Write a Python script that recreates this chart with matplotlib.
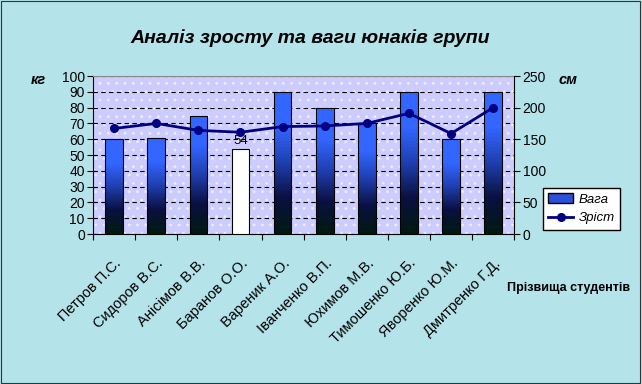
import numpy as np
import matplotlib.pyplot as plt
from matplotlib.colors import LinearSegmentedColormap
from matplotlib.patches import Rectangle
from matplotlib.transforms import ScaledTranslation

plt.rcParams['font.family'] = ['Liberation Sans', 'DejaVu Sans']

students = ['Петров П.С.', 'Сидоров В.С.', 'Анісімов В.В.', 'Баранов О.О.', 'Вареник А.О.',
            'Іванченко В.П.', 'Юхимов М.В.', 'Тимошенко Ю.Б.', 'Яворенко Ю.М.', 'Дмитренко Г.Д.']
weight = [60, 61, 75, 54, 90, 80, 70, 90, 60, 90]
height = [167, 175, 164, 161, 170, 171, 175, 191, 159, 200]
highlight = 3  # the white bar with a label

fig = plt.figure(figsize=(6.42, 3.84), dpi=100)
fig.patch.set_facecolor('#b5e3ea')
fig.patches.append(Rectangle((0.002, 0.003), 0.995, 0.994, transform=fig.transFigure,
                             fill=False, edgecolor='#333333', linewidth=0.8))

ax = fig.add_axes([0.145, 0.3906, 0.656, 0.4114])
ax.set_facecolor('#ccccff')
ax.add_patch(Rectangle((0, 0), 1, 1, transform=ax.transAxes, facecolor='none',
                       edgecolor='white', hatch='..', linewidth=0, alpha=0.5, zorder=0))

x = np.arange(len(students))
grad = LinearSegmentedColormap.from_list('g', ['#001a10', '#0a1040', '#1f3fb0', '#3366ff', '#3366ff'])
img = np.linspace(0, 1, 100).reshape(-1, 1)
bars = ax.bar(x, weight, width=0.42, facecolor='none', edgecolor='black', linewidth=0.8, zorder=3)
for i, b in enumerate(bars):
    if i == highlight:
        b.set_facecolor('white')
        continue
    im = ax.imshow(img, cmap=grad, origin='lower', aspect='auto', zorder=2,
                   extent=[b.get_x(), b.get_x() + b.get_width(), 0, b.get_height()])
    im.set_clip_path(b)
ax.text(x[highlight], weight[highlight] + 1, str(weight[highlight]), ha='center', va='bottom',
        fontsize=9.5, zorder=5)

ax.set_xlim(-0.5, len(students) - 0.5)
ax.set_ylim(0, 100)
ax.set_yticks(range(0, 101, 10))
ax.yaxis.grid(True, linestyle=(0, (4, 3)), color='black', linewidth=0.8)
ax.set_axisbelow(True)
ax.set_xticks(np.arange(-0.5, len(students), 1), minor=False)
ax.set_xticklabels([])
ax.set_xticks(x, minor=True)
ax.set_xticklabels(students, minor=True, rotation=45, ha='right', va='top',
                   rotation_mode='anchor', fontsize=10.5)
shift = ScaledTranslation(-9 / 100, 0, fig.dpi_scale_trans)
for lbl in ax.get_xticklabels(minor=True):
    lbl.set_transform(lbl.get_transform() + shift)
ax.tick_params(axis='x', which='minor', length=0, pad=16)
ax.tick_params(axis='x', which='major', length=4, direction='out')
ax.tick_params(axis='y', labelsize=10, length=4, pad=2)
for s in ['top', 'right']:
    ax.spines[s].set_visible(False)
ax.spines['top'].set_visible(True)
ax.spines['top'].set_color('#888888')

ax2 = ax.twinx()
ax2.set_ylim(0, 250)
ax2.set_yticks(range(0, 251, 50))
ax2.tick_params(axis='y', labelsize=10, length=4, pad=2)
line, = ax2.plot(x, height, color='#000080', linewidth=2, marker='o', markersize=5.5, zorder=6)
for s in ['top', 'left', 'bottom']:
    ax2.spines[s].set_visible(False)

fig.legend([Rectangle((0, 0), 1, 1, facecolor='#2a50d8', edgecolor='black'), line],
           ['Вага', 'Зріст'], loc='upper left', bbox_to_anchor=(543 / 642, 1 - 188 / 384),
           prop={'style': 'italic', 'size': 9.5}, frameon=True, fancybox=False,
           edgecolor='black', framealpha=1, borderpad=0.4, handlelength=1.9,
           handletextpad=0.4, labelspacing=0.5, borderaxespad=0)

fig.text(310 / 642, 1 - 38 / 384, 'Аналіз зросту та ваги юнаків групи', ha='center', va='center',
         fontsize=14, fontweight='bold', style='italic')
fig.text(38 / 642, 1 - 80 / 384, 'кг', ha='center', va='center', fontsize=10.5,
         fontweight='bold', style='italic')
fig.text(568 / 642, 1 - 80 / 384, 'см', ha='center', va='center', fontsize=10.5,
         fontweight='bold', style='italic')
fig.text(569 / 642, 1 - 288 / 384, 'Прізвища студентів', ha='center', va='center',
         fontsize=9, fontweight='bold')

fig.savefig('out.png', dpi=100, facecolor=fig.get_facecolor())
